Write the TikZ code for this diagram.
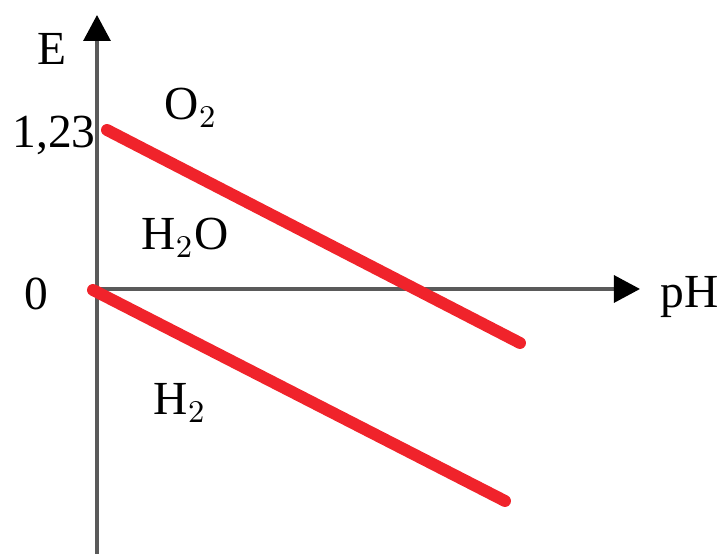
\documentclass[tikz,border=0pt]{standalone}
\usepackage{fontspec}
\setmainfont{Liberation Serif}
\usetikzlibrary{arrows.meta}
\definecolor{axisgray}{HTML}{5A5A5A}
\definecolor{linered}{HTML}{F0232B}

\begin{document}
\begin{tikzpicture}[
    every node/.style={font=\fontsize{13.5}{16}\selectfont, inner sep=0pt},
    lbl/.style={anchor=base},
    axis/.style={draw=axisgray, line width=0.9pt, -{Triangle[length=0.26cm, width=0.27cm, color=black]}},
    border/.style={draw=linered, line width=3.4pt, line cap=round},
  ]
  \useasboundingbox (0,0) rectangle (7.26,5.54);

  % axes
  \coordinate (origin) at (0.97,2.65);
  \coordinate (ybot) at (0.97,0);
  \coordinate (ytop) at (0.97,5.39);
  \coordinate (xend) at (6.40,2.65);
  \draw[axis] (ybot) -- (ytop);
  \draw[axis] (origin) -- (xend);

  % axis labels
  \node[lbl] (E) at (0.52,4.89) {E};
  \node[lbl] (pH) at (6.90,2.46) {pH};
  \node[lbl] (v123) at (0.54,4.06) {1,23};
  \node[lbl] (v0) at (0.36,2.44) {0};

  % boundary lines
  \coordinate (oxA) at (1.07,4.24);
  \coordinate (oxB) at (5.20,2.11);
  \coordinate (hyA) at (0.93,2.64);
  \coordinate (hyB) at (5.05,0.53);
  \draw[border] (oxA) -- (oxB);
  \draw[border] (hyA) -- (hyB);

  % regions
  \node[lbl] (O2) at (1.91,4.34) {O$_2$};
  \node[lbl] (H2O) at (1.85,3.04) {H$_2$O};
  \node[lbl] (H2) at (1.80,1.39) {H$_2$};
\end{tikzpicture}
\end{document}
